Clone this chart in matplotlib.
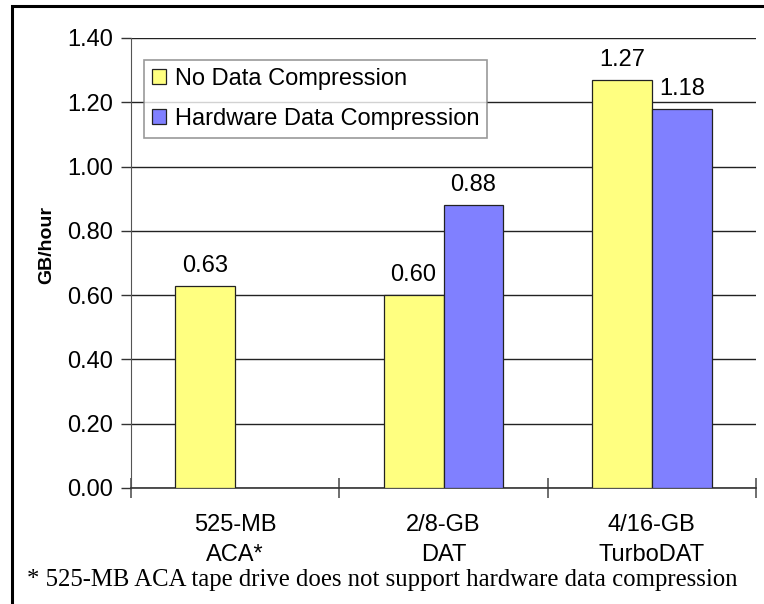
import matplotlib
matplotlib.use('Agg')
import matplotlib.pyplot as plt
import numpy as np
from matplotlib.patches import Rectangle

# data
categories = ['525-MB\nACA*', '2/8-GB\nDAT', '4/16-GB\nTurboDAT']
no_compression = [0.63, 0.60, 1.27]
hw_compression = [np.nan, 0.88, 1.18]  # ACA drive has no hardware compression
series_names = ['No Data Compression', 'Hardware Data Compression']
footnote = '* 525-MB ACA tape drive does not support hardware data compression'

plt.rcParams['font.family'] = ['Liberation Sans', 'DejaVu Sans']

fig = plt.figure(figsize=(7.64, 6.04), dpi=100)
ax = fig.add_axes([131 / 764, 116 / 604, 625 / 764, 450 / 604])

x = np.arange(len(categories))
w = 0.288
yellow = ax.bar(x - w / 2, no_compression, w, color='#FFFF80', edgecolor='#222222',
                linewidth=0.9, label=series_names[0], zorder=3)
blue = ax.bar(x + w / 2, hw_compression, w, color='#8080FF', edgecolor='#222222',
              linewidth=0.9, label=series_names[1], zorder=3)

for xi, v in zip(x - w / 2, no_compression):
    ax.annotate(f'{v:.2f}', (xi, v), xytext=(0, 10), textcoords='offset points',
                ha='center', va='baseline', fontsize=17)
for xi, v in zip(x + w / 2, hw_compression):
    if not np.isnan(v):
        ax.annotate(f'{v:.2f}', (xi, v), xytext=(0, 10), textcoords='offset points',
                    ha='center', va='baseline', fontsize=17)

ax.set_xlim(-0.5, len(categories) - 0.5)
ax.set_ylim(0, 1.4)
ax.set_yticks(np.arange(0, 1.41, 0.2))
ax.set_yticklabels([f'{t:.2f}' for t in np.arange(0, 1.41, 0.2)], fontsize=17)
ax.yaxis.grid(True, color='#222222', linewidth=1.0, zorder=0)

# boundary ticks between categories, labels in the middle
ax.set_xticks(np.arange(-0.5, len(categories), 1.0))
ax.set_xticklabels([])
ax.tick_params(axis='x', which='major', direction='inout', length=14, width=1.2, color='#555555')
ax.set_xticks(x, minor=True)
ax.set_xticklabels(categories, minor=True, fontsize=17, linespacing=1.45)
ax.tick_params(axis='x', which='minor', length=0, pad=19)
ax.tick_params(axis='y', length=7, width=1.0, color='#333333', pad=6)

for s in ['top', 'right']:
    ax.spines[s].set_visible(False)
ax.spines['left'].set_color('#555555')
ax.spines['bottom'].set_color('#333333')
ax.spines['bottom'].set_linewidth(1.2)

fig.text(47 / 764, 1 - 245 / 604, 'GB/hour', rotation=90, ha='center', va='center',
         fontsize=14, fontweight='bold')

leg = ax.legend(loc='upper left', bbox_to_anchor=((144 - 131) / 625, (488 - 60) / 450),
                fontsize=17, frameon=True, fancybox=False, borderaxespad=0,
                handlelength=0.6, handleheight=0.6, handletextpad=0.35,
                borderpad=0.35, labelspacing=0.75)
leg.get_frame().set_edgecolor('#808080')
leg.get_frame().set_linewidth(1.2)

fig.text(27 / 764, 1 - 580 / 604, footnote, ha='left', va='center', fontsize=17.8,
         family=['Liberation Serif', 'DejaVu Serif'])

# outer frame around the chart (cropped at the right and bottom)
fig.patches.append(Rectangle((12 / 764, -0.05), 1.0, 1 - 6 / 604 + 0.05,
                             transform=fig.transFigure, fill=False,
                             edgecolor='black', linewidth=2.2))

fig.savefig('out.png', dpi=100)
